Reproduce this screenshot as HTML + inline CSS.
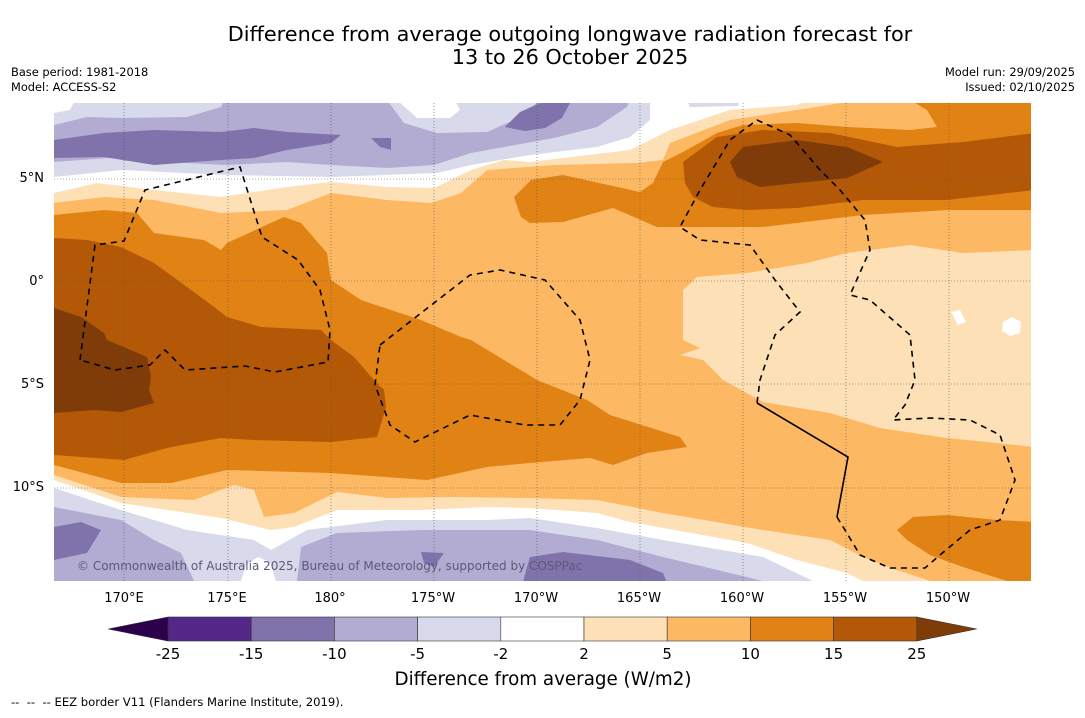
<!DOCTYPE html>
<html><head><meta charset="utf-8">
<style>
html,body{margin:0;padding:0;background:#fff;}
body{width:1085px;height:713px;overflow:hidden;font-family:"Liberation Sans","DejaVu Sans",sans-serif;}
</style></head>
<body>
<svg id="chart" width="1085" height="713" viewBox="0 0 1085 713" xmlns="http://www.w3.org/2000/svg">
<text x="570" y="41" font-size="20.8" text-anchor="middle" fill="#000" font-family="DejaVu Sans, sans-serif">Difference from average outgoing longwave radiation forecast for</text>
<text x="570" y="64" font-size="20.8" text-anchor="middle" fill="#000" font-family="DejaVu Sans, sans-serif">13 to 26 October 2025</text>
<text x="11" y="76" font-size="11.4" font-family="DejaVu Sans, sans-serif">Base period: 1981-2018</text>
<text x="11" y="91" font-size="11.4" font-family="DejaVu Sans, sans-serif">Model: ACCESS-S2</text>
<text x="1075" y="76" font-size="11.4" text-anchor="end" font-family="DejaVu Sans, sans-serif">Model run: 29/09/2025</text>
<text x="1075" y="91" font-size="11.4" text-anchor="end" font-family="DejaVu Sans, sans-serif">Issued: 02/10/2025</text>

<defs><clipPath id="mapclip"><rect x="54" y="103" width="977" height="478"/></clipPath></defs>
<g clip-path="url(#mapclip)">
<rect x="54" y="100" width="980" height="485" fill="#fdb863"/>
<path fill="#fee0b6" d="M54,100 L860,100 L797,110 L730,120 L670,143 L663,160 L637,163 L554,165 L487,170 L461,193 L431,203 L387,200 L331,193 L287,210 L221,213 L154,200 L104,197 L54,203 Z"/>
<path fill="#ffffff" d="M54,100 L810,100 L797,105 L730,110 L670,130 L630,150 L530,162 L504,160 L471,170 L434,188 L387,187 L331,182 L287,187 L221,197 L154,190 L97,183 L54,193 Z"/>
<path fill="#d8daeb" d="M54,100 L650,100 L650,120 L630,137 L597,147 L530,155 L471,165 L437,173 L331,177 L227,175 L121,170 L54,177 Z"/>
<path fill="#b2abd2" d="M54,100 L630,100 L627,107 L597,127 L554,138 L504,147 L471,153 L434,165 L387,168 L331,165 L287,162 L227,165 L187,163 L121,157 L54,162 Z"/>
<path fill="#d8daeb" d="M54,100 L224,100 L221,107 L187,117 L121,118 L87,117 L54,125 Z"/>
<path fill="#ffffff" d="M54,100 L75,100 L70,110 L54,113 Z"/>
<path fill="#d8daeb" d="M387,100 L540,100 L521,117 L487,132 L437,133 L404,123 Z"/>
<path fill="#ffffff" d="M397,100 L455,100 L460,110 L450,118 L417,118 Z"/>
<path fill="#d8daeb" d="M687,100 L740,100 L738,106 L690,107 Z"/>
<path fill="#8073ac" d="M54,140 L104,133 L154,130 L221,132 L254,128 L287,132 L341,135 L331,143 L287,150 L254,158 L221,160 L154,165 L104,157 L54,158 Z"/>
<path fill="#8073ac" d="M371,138 L391,138 L391,150 L380,147 Z"/>
<path fill="#8073ac" d="M505,127 L520,112 L540,103 L570,103 L562,118 L545,128 L525,131 Z"/>
<path fill="#e08214" d="M514,197 L531,180 L563,175 L640,192 L653,183 L663,162 L683,152 L717,133 L743,125 L797,123 L847,127 L910,130 L937,127 L927,110 L910,100 L1035,100 L1035,210 L947,210 L863,215 L763,227 L657,227 L613,208 L563,222 L530,223 L521,217 Z"/>
<path fill="#b35806" d="M685,183 L683,162 L717,137 L763,130 L830,133 L897,147 L963,142 L1035,133 L1035,190 L947,200 L863,200 L797,208 L747,210 L713,207 L693,197 Z"/>
<path fill="#7f3b08" d="M730,162 L743,147 L797,140 L847,147 L883,162 L847,178 L797,183 L760,187 L737,177 Z"/>
<path fill="#fee0b6" d="M683,340 L683,290 L697,277 L747,273 L807,263 L847,253 L910,245 L963,253 L1035,250 L1035,447 L947,438 L880,428 L830,413 L763,402 L723,380 L703,360 L680,355 L700,348 Z"/>
<path fill="#fff" d="M951,312 L960,310 L966,322 L958,325 Z"/>
<path fill="#fff" d="M1003,322 L1012,317 L1021,322 L1020,333 L1010,336 L1002,331 Z"/>
<path fill="#e08214" d="M54,215 L104,210 L137,213 L154,233 L204,240 L221,250 L227,243 L284,217 L301,223 L327,253 L331,280 L361,300 L421,320 L461,337 L471,340 L537,380 L587,400 L610,415 L680,437 L687,447 L647,453 L613,465 L590,458 L530,463 L487,467 L427,480 L331,473 L227,470 L171,483 L121,483 L54,465 Z"/>
<path fill="#b35806" d="M54,238 L87,240 L121,247 L154,263 L187,287 L214,307 L227,317 L261,327 L321,330 L331,340 L354,357 L374,380 L384,390 L386,407 L377,437 L331,442 L254,440 L221,438 L171,447 L124,460 L54,455 Z"/>
<path fill="#7f3b08" d="M54,308 L81,317 L104,333 L107,340 L147,357 L151,377 L149,390 L154,403 L121,412 L94,410 L54,413 Z"/>
<path fill="#fee0b6" d="M54,475 L121,497 L194,500 L234,485 L254,490 L264,517 L294,513 L337,492 L387,498 L454,497 L530,498 L597,500 L663,513 L763,530 L830,540 L863,557 L897,570 L930,581 L930,590 L54,590 Z"/>
<path fill="#ffffff" d="M54,480 L121,503 L221,518 L271,530 L294,527 L337,510 L421,510 L487,507 L530,508 L597,513 L630,522 L747,543 L797,560 L847,573 L863,581 L863,590 L54,590 Z"/>
<path fill="#d8daeb" d="M54,488 L121,510 L187,530 L254,540 L271,550 L307,530 L387,520 L487,520 L530,518 L597,528 L663,540 L763,557 L813,581 L813,590 L54,590 Z"/>
<path fill="#ffffff" d="M241,581 L246,565 L258,557 L270,562 L276,581 Z"/>
<path fill="#b2abd2" d="M54,507 L121,520 L154,540 L181,553 L194,581 L194,590 L54,590 Z"/>
<path fill="#b2abd2" d="M297,590 L297,581 L301,547 L337,533 L421,530 L530,530 L597,540 L663,557 L730,573 L763,581 L763,590 Z"/>
<path fill="#8073ac" d="M54,527 L81,522 L101,530 L87,553 L54,560 Z"/>
<path fill="#8073ac" d="M421,552 L444,553 L434,567 L424,563 Z"/>
<path fill="#8073ac" d="M521,590 L527,567 L530,557 L563,552 L630,560 L663,573 L670,590 Z"/>
<path fill="#e08214" d="M897,530 L913,517 L947,515 L997,520 L1035,522 L1035,590 L963,567 L930,555 L907,540 Z"/>
<g stroke="#555" stroke-width="0.6" stroke-dasharray="1,2" fill="none">
<line x1="124" y1="103" x2="124" y2="581"/><line x1="228" y1="103" x2="228" y2="581"/>
<line x1="331" y1="103" x2="331" y2="581"/><line x1="434" y1="103" x2="434" y2="581"/>
<line x1="537" y1="103" x2="537" y2="581"/><line x1="640" y1="103" x2="640" y2="581"/>
<line x1="743" y1="103" x2="743" y2="581"/><line x1="846" y1="103" x2="846" y2="581"/>
<line x1="949" y1="103" x2="949" y2="581"/>
<line x1="54" y1="179" x2="1031" y2="179"/><line x1="54" y1="281" x2="1031" y2="281"/>
<line x1="54" y1="384" x2="1031" y2="384"/><line x1="54" y1="488" x2="1031" y2="488"/>
</g>
<g stroke="#000" stroke-width="1.6" fill="none" stroke-dasharray="6,5">
<path d="M80,360 L95,245 L124,241 L145,190 L240,167 L262,237 L298,260 L320,290 L330,330 L328,362 L275,372 L245,366 L185,370 L165,350 L150,365 L115,370 Z"/>
<path d="M380,345 L470,275 L500,270 L545,280 L580,320 L590,360 L580,400 L560,425 L525,425 L470,415 L415,442 L390,425 L375,385 Z"/>
<path d="M837,517 L845,530 L860,555 L890,568 L925,568 L940,555 L970,530 L1000,520 L1015,480 L1000,435 L970,420 L930,418 L893,420 L905,405 L915,380 L910,335 L870,300 L850,295 L870,250 L865,220 L840,190 L820,170 L790,135 L757,120 L730,140 L700,190 L680,227 L700,240 L750,245 L775,280 L800,312 L775,335 L760,380 L757,403"/>
</g>
<path d="M757,403 L848,457 L837,517" stroke="#000" stroke-width="1.6" fill="none"/>
<text x="77" y="570" font-size="12" fill="#5a5a78" font-family="DejaVu Sans, sans-serif">© Commonwealth of Australia 2025, Bureau of Meteorology, supported by COSPPac</text>
</g>
<g id="lonlat"></g>
<g id="cbar"></g>
<text x="543" y="685" font-size="18.3" text-anchor="middle" font-family="DejaVu Sans, sans-serif">Difference from average (W/m2)</text>
<text x="11" y="706" font-size="11.6" font-family="DejaVu Sans, sans-serif">-- &#160;-- &#160;-- EEZ border V11 (Flanders Marine Institute, 2019).</text>
</svg>
<script>
const lonLabels = ["170°E","175°E","180°","175°W","170°W","165°W","160°W","155°W","150°W"];
const lonValues = [170,175,180,185,190,195,200,205,210];
const latLabels = ["5°N","0°","5°S","10°S"];
const latValues = [5,0,-5,-10];
const cbarBounds = [-25,-15,-10,-5,-2,2,5,10,15,25];
const cbarColors = ["#542788","#8073ac","#b2abd2","#d8daeb","#ffffff","#fee0b6","#fdb863","#e08214","#b35806"];
const cbarExtendColors = ["#2d004b","#7f3b08"];

const NS = "http://www.w3.org/2000/svg";
function lonX(l){ return 124 + (l-170)*20.6; }
function latY(v){ return 281 - v*20.6; }
function mk(tag, attrs, parent){ const e=document.createElementNS(NS,tag); for(const k in attrs) e.setAttribute(k,attrs[k]); parent.appendChild(e); return e; }

const ll = document.getElementById("lonlat");
lonValues.forEach((v,i)=>{
  const t = mk("text",{x:lonX(v),y:602,"font-size":13,"text-anchor":"middle","font-family":"DejaVu Sans, sans-serif"},ll);
  
  
  t.textContent = lonLabels[i];
});
latValues.forEach((v,i)=>{
  const t = mk("text",{x:44,y:latY(v)+4,"font-size":13,"text-anchor":"end","font-family":"DejaVu Sans, sans-serif"},ll);
  
  
  t.textContent = latLabels[i];
});

const cb = document.getElementById("cbar");
const cx0 = 168, cw = 83.2, cy = 617, ch = 24;
cbarColors.forEach((c,i)=>{
  const r = mk("rect",{x:cx0+i*cw,y:cy,width:cw,height:ch,fill:c,stroke:"#333","stroke-width":0.6},cb);
  
  
});
const cx1 = cx0 + cbarColors.length*cw;
const tl = mk("polygon",{points:`${cx0},${cy} ${cx0-60},${cy+ch/2} ${cx0},${cy+ch}`,fill:cbarExtendColors[0],stroke:"#333","stroke-width":0.6},cb);


const tr = mk("polygon",{points:`${cx1},${cy} ${cx1+60},${cy+ch/2} ${cx1},${cy+ch}`,fill:cbarExtendColors[1],stroke:"#333","stroke-width":0.6},cb);


cbarBounds.forEach((b,i)=>{
  const t = mk("text",{x:cx0+i*cw,y:659,"font-size":15,"text-anchor":"middle","font-family":"DejaVu Sans, sans-serif"},cb);
  
  
  t.textContent = String(b);
});
</script>
</body></html>
